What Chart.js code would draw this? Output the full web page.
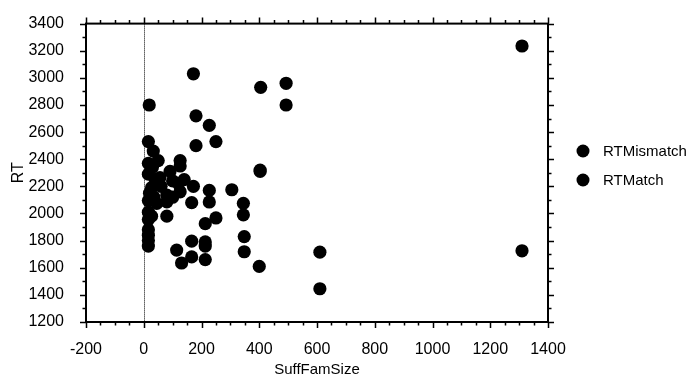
<!DOCTYPE html>
<html>
<head>
<meta charset="utf-8">
<script src="https://cdn.jsdelivr.net/npm/chart.js@4/dist/chart.umd.min.js"></script>
<style>
  html,body{margin:0;padding:0;background:#fff;}
  #wrap{width:699px;height:381px;}
</style>
</head>
<body>
<div id="wrap"><canvas id="rtChart" width="699" height="381"></canvas></div>
<script>
// series labels
const seriesNames = ['RTMismatch', 'RTMatch'];

// SuffFamSize / RT values
const mismatchX = [172, 405, 493, 19, 227, 181, 33, 403, 126, 16, 91, 120, 227, 27, 80, 227, 345, 45, 80, 16, 250, 348, 16, 16, 166, 213, 131, 213, 1310, 610, 30, 60, 140, 35];
const mismatchY = [3030, 2930, 2960, 2800, 2650, 2500, 2460, 2320, 2390, 2370, 2310, 2220, 2170, 2190, 2135, 2085, 2075, 2075, 1980, 2010, 1967, 1830, 1880, 1800, 1796, 1790, 1635, 1660, 3235, 1715, 2340, 2200, 2250, 2120];

const matchX = [493, 181, 250, 16, 403, 126, 50, 16, 56, 172, 305, 126, 166, 345, 80, 16, 27, 16, 213, 348, 16, 16, 213, 114, 166, 400, 610, 1310, 40, 100, 20, 100];
const matchY = [2800, 2720, 2530, 2530, 2310, 2350, 2390, 2290, 2265, 2200, 2175, 2160, 2080, 1990, 2086, 2095, 1980, 1955, 1925, 1718, 1840, 1760, 1760, 1730, 1680, 1610, 1445, 1725, 2250, 2240, 2150, 2120];

// axis ranges and ticks
const xMin = -200, xMax = 1400, xStep = 200, xMinor = 50;
const yMin = 1200, yMax = 3400, yStep = 200, yMinor = 100;

function toPoints(xs, ys){
  return xs.map((x,i)=>({x:x, y:ys[i]}));
}

const FONT = "'Liberation Sans', Arial, Helvetica, sans-serif";

// box, tick marks, dotted zero line and legend
const framePlugin = {
  id: 'frame',
  afterDatasetsDraw(chart){
    const ctx = chart.ctx;
    const xs = chart.scales.x, ys = chart.scales.y;
    const a = chart.chartArea;
    ctx.save();

    // dotted line at x = 0
    const x0 = Math.round(xs.getPixelForValue(0)) + 0.5;
    ctx.strokeStyle = '#000';
    ctx.lineWidth = 1;
    ctx.setLineDash([1,1]);
    ctx.beginPath();
    ctx.moveTo(x0, a.top);
    ctx.lineTo(x0, a.bottom);
    ctx.stroke();
    ctx.setLineDash([]);

    // frame
    ctx.lineWidth = 2;
    ctx.strokeRect(a.left, a.top, a.right-a.left, a.bottom-a.top);

    // x ticks (top + bottom, outward)
    ctx.lineWidth = 1.5;
    for(let v=xMin; v<=xMax; v+=xMinor){
      const px = Math.round(xs.getPixelForValue(v)) + 0.5;
      const len = (v % xStep === 0) ? 6 : 3.5;
      ctx.beginPath();
      ctx.moveTo(px, a.bottom); ctx.lineTo(px, a.bottom+len);
      ctx.moveTo(px, a.top); ctx.lineTo(px, a.top-len);
      ctx.stroke();
    }
    // y ticks (left + right, outward)
    for(let v=yMin; v<=yMax; v+=yMinor){
      const py = Math.round(ys.getPixelForValue(v)) + 0.5;
      const len = (v % yStep === 0) ? 6 : 3.5;
      ctx.beginPath();
      ctx.moveTo(a.left, py); ctx.lineTo(a.left-len, py);
      ctx.moveTo(a.right, py); ctx.lineTo(a.right+len, py);
      ctx.stroke();
    }

    // legend
    const legY = [151, 180];
    ctx.font = '15px ' + FONT;
    ctx.textBaseline = 'middle';
    ctx.textAlign = 'left';
    chart.data.datasets.forEach((ds,i)=>{
      ctx.fillStyle = ds.backgroundColor;
      ctx.beginPath();
      ctx.arc(583, legY[i], 6.5, 0, Math.PI*2);
      ctx.fill();
      ctx.fillStyle = '#000';
      ctx.fillText(ds.label, 603, legY[i]+1);
    });
    ctx.restore();
  }
};

const plainNum = v => String(v);

new Chart(document.getElementById('rtChart'), {
  type: 'scatter',
  data: {
    datasets: [
      {label: seriesNames[0], data: toPoints(mismatchX, mismatchY), backgroundColor: '#000', borderWidth: 0, pointRadius: 6.6},
      {label: seriesNames[1], data: toPoints(matchX, matchY), backgroundColor: '#000', borderWidth: 0, pointRadius: 6.6}
    ]
  },
  options: {
    responsive: false,
    animation: false,
    events: [],
    layout: {padding: {left: 0, top: 14, right: 151, bottom: 0}},
    plugins: {legend: {display: false}, tooltip: {enabled: false}},
    scales: {
      x: {
        type: 'linear', min: xMin, max: xMax,
        grid: {display: false}, border: {display: false},
        ticks: {stepSize: xStep, color: '#000', padding: 10, font: {family: FONT, size: 16}, callback: plainNum},
        title: {display: true, text: 'SuffFamSize', color: '#000', font: {family: FONT, size: 15}, padding: {top: 0, bottom: 2}},
        afterFit(s){ s.height = 59; }
      },
      y: {
        type: 'linear', min: yMin, max: yMax,
        grid: {display: false}, border: {display: false},
        ticks: {stepSize: yStep, color: '#000', padding: 14, font: {family: FONT, size: 16}, callback: plainNum},
        title: {display: true, text: 'RT', color: '#000', font: {family: FONT, size: 16}, padding: {top: 9, bottom: 0}},
        afterFit(s){ s.width = 86; }
      }
    }
  },
  plugins: [framePlugin]
});
</script>
</body>
</html>
